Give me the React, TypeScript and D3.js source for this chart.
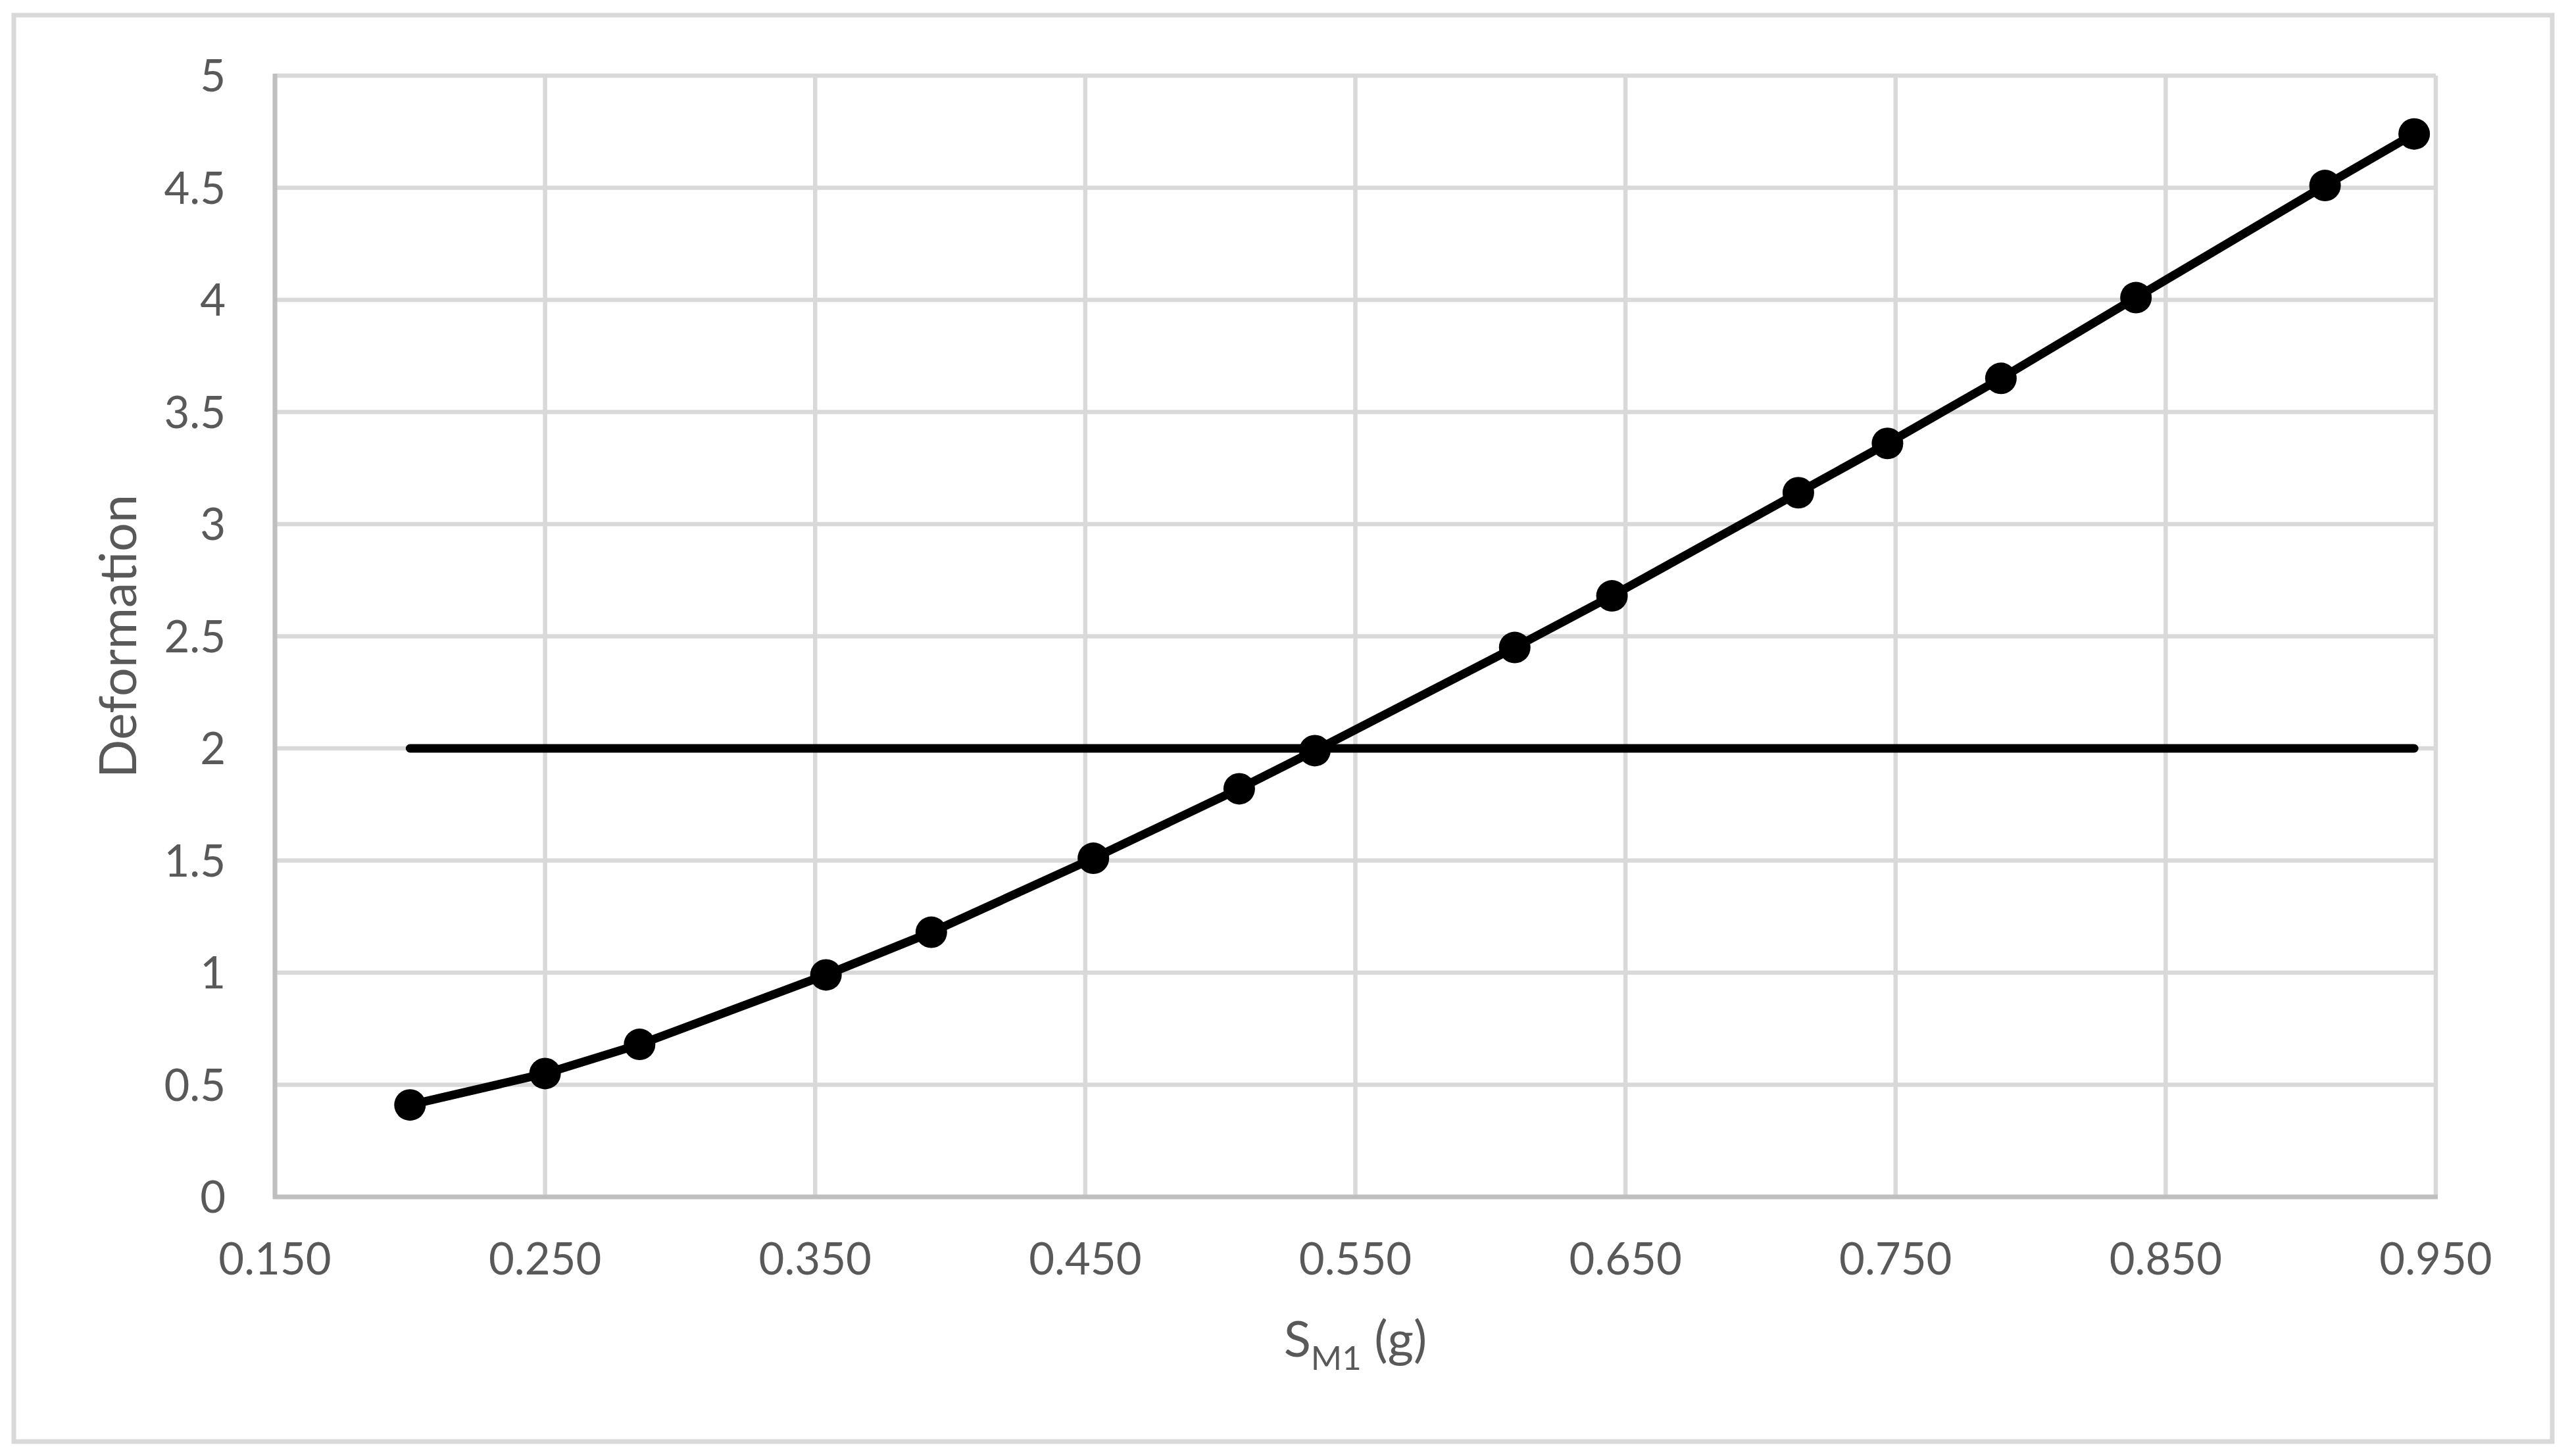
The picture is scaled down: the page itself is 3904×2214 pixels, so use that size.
import { extent, line, range, scaleLinear } from 'd3';
import React from 'react';

// values
const sm1 = [0.2, 0.25, 0.285, 0.354, 0.393, 0.453, 0.507, 0.535, 0.609, 0.645, 0.714, 0.747, 0.789, 0.839, 0.909, 0.942];
const deformation = [0.41, 0.55, 0.68, 0.99, 1.18, 1.51, 1.82, 1.99, 2.45, 2.68, 3.14, 3.36, 3.65, 4.01, 4.51, 4.74];
const limitValue = 2;

const xTickValues = [0.15, 0.25, 0.35, 0.45, 0.55, 0.65, 0.75, 0.85, 0.95];
const xTickLabels = ['0.150', '0.250', '0.350', '0.450', '0.550', '0.650', '0.750', '0.850', '0.950'];
const yTickValues = [0, 0.5, 1, 1.5, 2, 2.5, 3, 3.5, 4, 4.5, 5];
const yTickLabels = ['0', '0.5', '1', '1.5', '2', '2.5', '3', '3.5', '4', '4.5', '5'];

const width = 3904;
const height = 2214;
const plot = { left: 418, right: 3703, top: 115, bottom: 1820 };

const font = 'Lato, "Open Sans", sans-serif';
const textColor = '#595959';
const gridColor = '#d9d9d9';
const axisColor = '#bfbfbf';

const App = () => {
	const xScale = scaleLinear().domain([0.15, 0.95]).range([plot.left, plot.right]);
	const yScale = scaleLinear().domain([0, 5]).range([plot.bottom, plot.top]);

	const points = range(sm1.length).map(i => [sm1[i], deformation[i]] as [number, number]);
	const path = line<[number, number]>()
		.x(d => xScale(d[0]))
		.y(d => yScale(d[1]));

	const [x0, x1] = extent(sm1) as [number, number];

	return (
		<svg
			width={width}
			height={height}
			style={{ position: 'absolute', left: 0, top: 0, background: '#fff' }}
		>
			<rect x={0} y={0} width={width} height={height} fill="#fff" />
			{/* chart area border */}
			<rect x={21} y={23} width={3859} height={2169} fill="none" stroke={gridColor} strokeWidth={7} />

			{/* gridlines */}
			{yTickValues.map(v => (
				<line
					key={'gy' + v}
					x1={plot.left}
					x2={plot.right}
					y1={yScale(v)}
					y2={yScale(v)}
					stroke={gridColor}
					strokeWidth={6.5}
				/>
			))}
			{xTickValues.map(v => (
				<line
					key={'gx' + v}
					x1={xScale(v)}
					x2={xScale(v)}
					y1={plot.top}
					y2={plot.bottom}
					stroke={gridColor}
					strokeWidth={6.5}
				/>
			))}
			{/* axis lines */}
			<line x1={plot.left} x2={plot.left} y1={plot.top - 3} y2={plot.bottom + 3} stroke={axisColor} strokeWidth={7} />
			<line x1={plot.left - 3} x2={plot.right + 3} y1={plot.bottom} y2={plot.bottom} stroke={axisColor} strokeWidth={7} />

			{/* tick labels */}
			{yTickValues.map((v, i) => (
				<text
					key={'ty' + v}
					x={343}
					y={yScale(v)}
					dy="0.36em"
					textAnchor="end"
					fontFamily={font}
					fontSize={67}
					fill={textColor}
				>
					{yTickLabels[i]}
				</text>
			))}
			{xTickValues.map((v, i) => (
				<text
					key={'tx' + v}
					x={xScale(v)}
					y={1938}
					textAnchor="middle"
					fontFamily={font}
					fontSize={67}
					fill={textColor}
				>
					{xTickLabels[i]}
				</text>
			))}

			{/* axis titles */}
			<text
				transform={`translate(179,${(plot.top + plot.bottom) / 2}) rotate(-90)`}
				textAnchor="middle"
				dy="0.36em"
				fontFamily={font}
				fontSize={77}
				fill={textColor}
			>
				Deformation
			</text>
			<text x={(plot.left + plot.right) / 2} y={2063} textAnchor="middle" fontFamily={font} fontSize={76} fill={textColor}>
				S
				<tspan fontSize={51} dy={20}>
					M1
				</tspan>
				<tspan dy={-20}> (g)</tspan>
			</text>

			{/* limit line */}
			<line
				x1={xScale(x0)}
				x2={xScale(x1)}
				y1={yScale(limitValue)}
				y2={yScale(limitValue)}
				stroke="#000"
				strokeWidth={13}
				strokeLinecap="round"
			/>

			{/* series */}
			<path d={path(points) || ''} fill="none" stroke="#000" strokeWidth={13} strokeLinejoin="round" strokeLinecap="round" />
			{points.map((d, i) => (
				<circle key={i} cx={xScale(d[0])} cy={yScale(d[1])} r={24} fill="#000" />
			))}
		</svg>
	);
};

export default App;
